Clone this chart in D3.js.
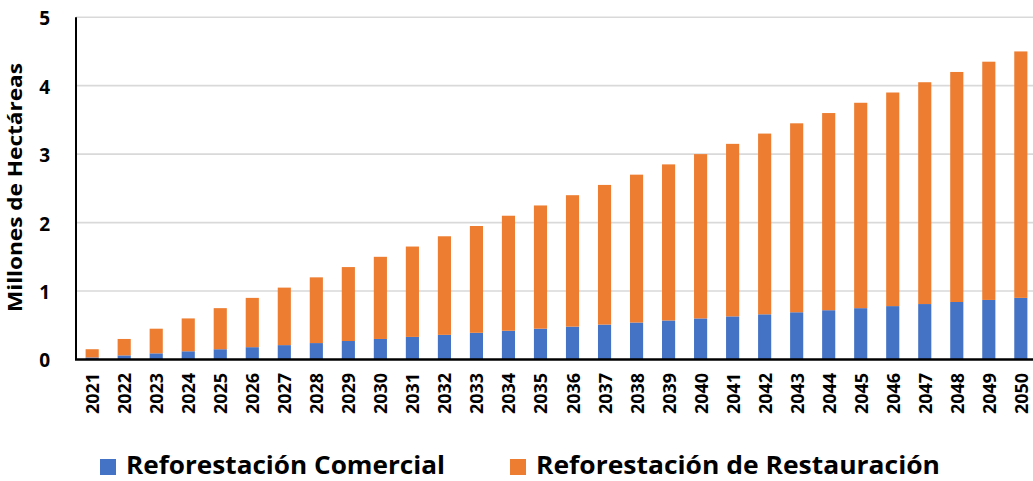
<!DOCTYPE html>
<html>
<head>
<meta charset="utf-8">
<script src="https://cdn.jsdelivr.net/npm/d3@7/dist/d3.min.js"></script>
<style>
	body { margin: 0; background: #fff; }
	text { font-family: "Open Sans", "Liberation Sans", sans-serif; font-weight: bold; fill: #000; }
</style>
</head>
<body>
<script>
var YEARS = [
	"2021", "2022", "2023", "2024", "2025", "2026", "2027", "2028", "2029", "2030",
	"2031", "2032", "2033", "2034", "2035", "2036", "2037", "2038", "2039", "2040",
	"2041", "2042", "2043", "2044", "2045", "2046", "2047", "2048", "2049", "2050"
];

// millones de hectareas
var COMERCIAL = [
	0.03, 0.06, 0.09, 0.12, 0.15, 0.18, 0.21, 0.24, 0.27, 0.30,
	0.33, 0.36, 0.39, 0.42, 0.45, 0.48, 0.51, 0.54, 0.57, 0.60,
	0.63, 0.66, 0.69, 0.72, 0.75, 0.78, 0.81, 0.84, 0.87, 0.90
];
var RESTAURACION = [
	0.12, 0.24, 0.36, 0.48, 0.60, 0.72, 0.84, 0.96, 1.08, 1.20,
	1.32, 1.44, 1.56, 1.68, 1.80, 1.92, 2.04, 2.16, 2.28, 2.40,
	2.52, 2.64, 2.76, 2.88, 3.00, 3.12, 3.24, 3.36, 3.48, 3.60
];

var SERIES = ["Reforestación Comercial", "Reforestación de Restauración"];
var COLORS = ["#4472C4", "#ED7D31"];
var Y_TICKS = [0, 1, 2, 3, 4, 5];

var WIDTH = 1033, HEIGHT = 481;
var plot = { left: 76, right: 1037, top: 17.2, bottom: 359.5 };

var svg = d3.select("body").append("svg")
	.attr("width", WIDTH).attr("height", HEIGHT);

var x = d3.scaleBand().domain(YEARS).range([plot.left, plot.right]).paddingInner(0.59).paddingOuter(0.3);
var y = d3.scaleLinear().domain([0, 5]).range([plot.bottom, plot.top]);

// gridlines
svg.append("g").selectAll("line")
	.data(Y_TICKS.filter(d => d > 0))
	.enter().append("line")
	.attr("x1", plot.left).attr("x2", WIDTH)
	.attr("y1", d => y(d)).attr("y2", d => y(d))
	.attr("stroke", "#d9d9d9").attr("stroke-width", 1.6);

// stacked bars
var rows = YEARS.map((yr, i) => ({ year: yr, c: COMERCIAL[i], r: RESTAURACION[i] }));
var stack = d3.stack().keys(["c", "r"])(rows);

svg.append("g").selectAll("g")
	.data(stack)
	.enter().append("g")
	.attr("fill", (d, i) => COLORS[i])
	.selectAll("rect")
	.data(d => d)
	.enter().append("rect")
	.attr("x", d => x(d.data.year))
	.attr("width", x.bandwidth())
	.attr("y", d => y(d[1]))
	.attr("height", d => y(d[0]) - y(d[1]));

// axes lines
svg.append("line")
	.attr("x1", plot.left).attr("x2", plot.left)
	.attr("y1", plot.top).attr("y2", plot.bottom)
	.attr("stroke", "#000").attr("stroke-width", 2);
svg.append("line")
	.attr("x1", plot.left - 1).attr("x2", WIDTH)
	.attr("y1", plot.bottom).attr("y2", plot.bottom)
	.attr("stroke", "#000").attr("stroke-width", 2.5);

// y tick labels
svg.append("g").selectAll("text")
	.data(Y_TICKS)
	.enter().append("text")
	.attr("x", 50)
	.attr("y", d => y(d))
	.attr("dy", "0.42em")
	.attr("text-anchor", "end")
	.style("font-size", "19px")
	.text(d => d);

// x tick labels
svg.append("g").selectAll("text")
	.data(YEARS)
	.enter().append("text")
	.attr("transform", d => `translate(${x(d) + x.bandwidth() / 2 + 7},373) rotate(-90)`)
	.attr("text-anchor", "end")
	.style("font-size", "17px")
	.attr("textLength", 41)
	.attr("lengthAdjust", "spacingAndGlyphs")
	.text(d => d);

// y axis title
svg.append("text")
	.attr("transform", "translate(22,187.5) rotate(-90)")
	.attr("text-anchor", "middle")
	.style("font-size", "20px")
	.attr("textLength", 249)
	.attr("lengthAdjust", "spacingAndGlyphs")
	.text("Millones de Hectáreas");

// legend
var legend = [
	{ x: 100, tx: 126, w: 319 },
	{ x: 510, tx: 536, w: 404 }
];
var lg = svg.append("g").selectAll("g")
	.data(SERIES)
	.enter().append("g");
lg.append("rect")
	.attr("x", (d, i) => legend[i].x).attr("y", 459)
	.attr("width", 16).attr("height", 16)
	.attr("fill", (d, i) => COLORS[i]);
lg.append("text")
	.attr("x", (d, i) => legend[i].tx).attr("y", 474)
	.style("font-size", "25px")
	.attr("textLength", (d, i) => legend[i].w)
	.attr("lengthAdjust", "spacingAndGlyphs")
	.text(d => d);
</script>
</body>
</html>
